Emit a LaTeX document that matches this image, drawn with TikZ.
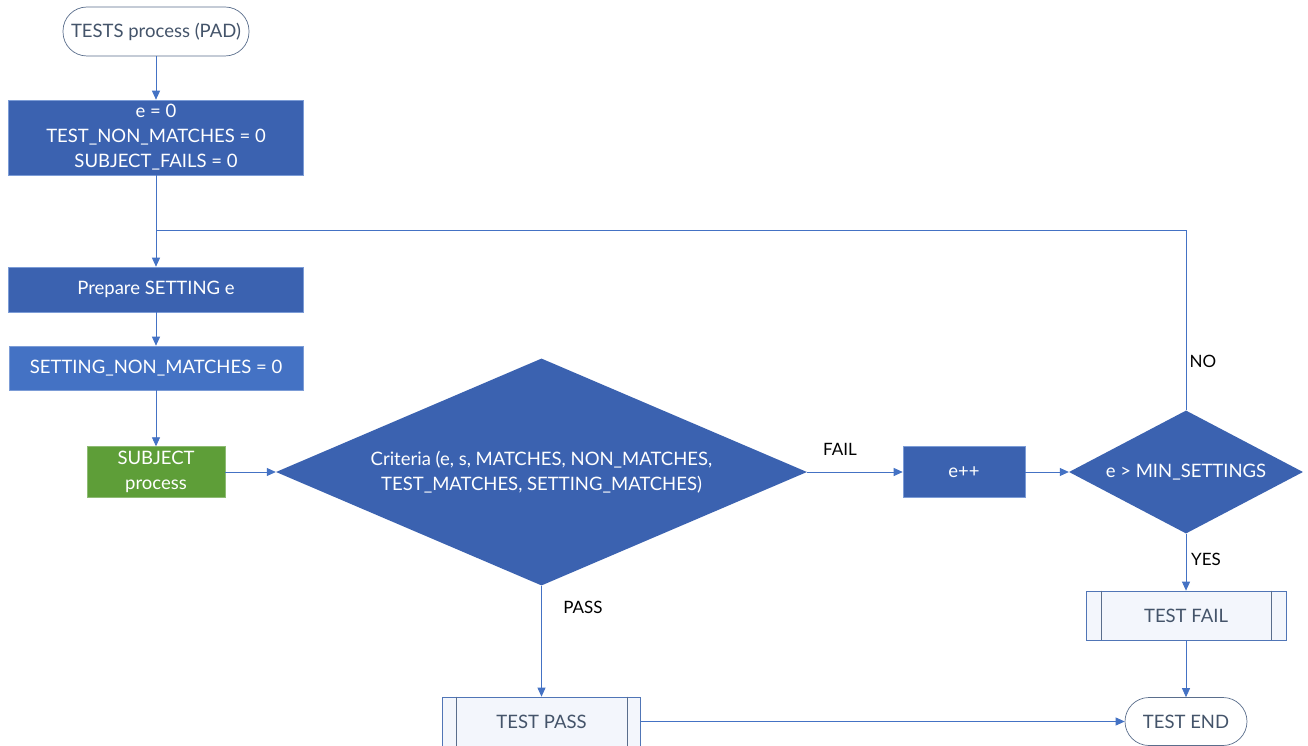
\documentclass[tikz,border=0pt]{standalone}
\usepackage{fontspec}
\setmainfont{Lato}
\usetikzlibrary{shapes.geometric,arrows.meta}
\definecolor{dblue}{HTML}{3B62B0}
\definecolor{mblue}{HTML}{4472C4}
\definecolor{lineblue}{HTML}{4472C4}
\definecolor{gborder}{HTML}{5A6E8C}
\definecolor{gtext}{HTML}{44546A}
\definecolor{sgreen}{HTML}{5E9E38}
\definecolor{lightfill}{HTML}{F3F6FC}
\tikzset{
  every node/.style={font=\fontsize{18.5}{25}\selectfont},
  term/.style={draw=gborder, fill=white, rounded corners=24pt, text=gtext, inner sep=0pt, line width=0.7pt},
  procbox/.style={draw=mblue!70!white, fill=dblue, text=white, inner sep=0pt, align=center, line width=0.6pt},
  lightbox/.style={procbox, fill=mblue},
  greenbox/.style={draw=sgreen!70!white, fill=sgreen, text=white, inner sep=0pt, align=center},
  decision/.style={diamond, aspect=2.34, fill=dblue, text=white, inner sep=0pt, align=center},
  predef/.style={draw=mblue!80!gray, fill=lightfill, text=gtext, inner sep=0pt, line width=0.7pt},
  conn/.style={draw=lineblue, line width=0.8pt, -{Triangle[length=9pt,width=8pt]}},
  plain/.style={draw=lineblue, line width=0.8pt},
  lbl/.style={text=black, font=\fontsize{17}{20}\selectfont}
}
\begin{document}
\begin{tikzpicture}[x=1pt,y=-1pt]
\useasboundingbox (0,0) rectangle (1308,746);
\fill[white] (0,0) rectangle (1308,746);
\node[term, minimum width=186pt, minimum height=49pt] (start) at (156,31.5) {TESTS process (PAD)};
\node[procbox, minimum width=295pt, minimum height=75pt] (init) at (156,137.5) {e = 0\\TEST\_NON\_MATCHES = 0\\SUBJECT\_FAILS = 0};
\node[procbox, minimum width=295pt, minimum height=45pt] (prep) at (156,289.5) {Prepare SETTING e};
\node[lightbox, minimum width=294pt, minimum height=44pt] (setnm) at (156,368) {SETTING\_NON\_MATCHES = 0};
\node[greenbox, minimum width=138pt, minimum height=51pt] (subj) at (156,472) {SUBJECT\\process};
\node[decision, minimum width=531pt, minimum height=227pt] (crit) at (541.5,472) {Criteria (e, s, MATCHES, NON\_MATCHES,\\TEST\_MATCHES, SETTING\_MATCHES)};
\node[procbox, minimum width=122pt, minimum height=51pt] (inc) at (964,472) {e++};
\node[decision, aspect=1.9, minimum width=234pt, minimum height=123pt] (minset) at (1186,472) {e > MIN\_SETTINGS};
\node[predef, minimum width=200pt, minimum height=49pt] (fail) at (1186,615.5) {TEST FAIL};
\draw[gborder, line width=0.7pt] ([xshift=16pt]fail.north west) -- ([xshift=16pt]fail.south west);
\draw[gborder, line width=0.7pt] ([xshift=-15pt]fail.north east) -- ([xshift=-15pt]fail.south east);
\node[predef, minimum width=198pt, minimum height=49pt] (pass) at (541.5,721.5) {TEST PASS};
\draw[gborder, line width=0.7pt] ([xshift=14pt]pass.north west) -- ([xshift=14pt]pass.south west);
\draw[gborder, line width=0.7pt] ([xshift=-14pt]pass.north east) -- ([xshift=-14pt]pass.south east);
\node[term, minimum width=122pt, minimum height=48pt] (end) at (1186,721.5) {TEST END};
\coordinate (j) at (156,230);
\coordinate (jr) at (1186,230);
\draw[conn] (start) -- (init);
\draw[plain] (init.south) -- (j);
\draw[conn] (j) -- (prep.north);
\draw[conn] (prep) -- (setnm);
\draw[conn] (setnm) -- (subj);
\draw[conn] (subj) -- (crit.west);
\draw[conn] (crit.east) -- (inc.west);
\draw[conn] (inc) -- (minset.west);
\draw[plain] (minset.north) -- (jr) -- (j);
\draw[conn] (minset.south) -- (fail.north);
\draw[conn] (crit.south) -- (pass.north);
\draw[conn] (fail) -- (end);
\draw[conn] (pass) -- (end);
\node[lbl] (lfail) at (840,449) {FAIL};
\node[lbl] (lpass) at (583,607) {PASS};
\node[lbl] (lno) at (1203,361) {NO};
\node[lbl] (lyes) at (1206,559) {YES};
\end{tikzpicture}
\end{document}
